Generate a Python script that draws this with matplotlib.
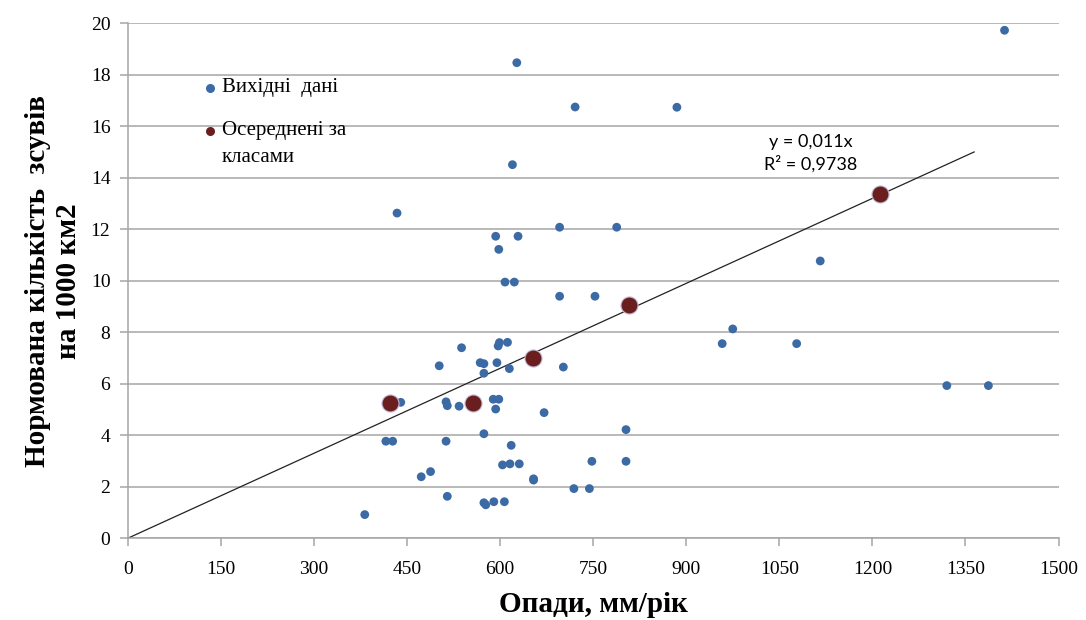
#!/usr/bin/env python3

import matplotlib
matplotlib.use('Agg')
import matplotlib.pyplot as plt

# опади (мм/рік) та нормована кількість зсувів на 1000 км2
rain = [1413, 627, 721, 885, 620, 434, 696, 788, 593, 629,
        598, 1116, 608, 623, 696, 753, 975, 958, 1078, 538,
        599, 612, 597, 502, 568, 574, 595, 615, 574, 702,
        1320, 1387, 440, 513, 515, 534, 589, 598, 593, 671,
        803, 416, 427, 513, 574, 618, 604, 616, 631, 654,
        654, 748, 803, 488, 473, 719, 744, 515, 574, 577,
        590, 607, 382]
slides = [19.73, 18.47, 16.75, 16.74, 14.51, 12.63, 12.08, 12.08, 11.73, 11.73,
          11.22, 10.77, 9.95, 9.95, 9.40, 9.40, 8.13, 7.56, 7.56, 7.40,
          7.60, 7.61, 7.47, 6.70, 6.82, 6.78, 6.82, 6.59, 6.41, 6.65,
          5.93, 5.93, 5.28, 5.30, 5.15, 5.13, 5.40, 5.40, 5.02, 4.88,
          4.22, 3.77, 3.77, 3.77, 4.06, 3.61, 2.85, 2.89, 2.89, 2.31,
          2.26, 2.99, 2.99, 2.59, 2.39, 1.93, 1.93, 1.63, 1.38, 1.30,
          1.42, 1.42, 0.92]

# середні по класах
class_rain = [422, 556, 653, 808, 1212]
class_slides = [5.27, 5.27, 6.99, 9.06, 13.37]

# лінійний тренд через початок координат
slope = 0.011
r2 = 0.9738
trend_x = [0, 1364]

blue = '#3b6aa5'
dred = '#6a1e1e'
grid_c = '#a6a6a6'
serif = ['Liberation Serif', 'DejaVu Serif']

fig = plt.figure(figsize=(10.86, 6.2), dpi=100)
ax = fig.add_axes([0.1176, 0.1318, 0.8571, 0.8306])

ax.plot(trend_x, [slope * v for v in trend_x], color='#222222', lw=0.9, zorder=2)
ax.scatter(rain, slides, s=40, color=blue, edgecolors='none', zorder=3)
ax.scatter(class_rain, class_slides, s=150, color=dred,
           edgecolors='#bdb8d4', linewidths=0.8, zorder=4)

ax.set_xlim(0, 1500)
ax.set_ylim(0, 20)
ax.set_xticks(range(0, 1501, 150))
ax.set_yticks(range(0, 21, 2))
ax.yaxis.grid(True, color=grid_c, lw=1.1)
ax.set_axisbelow(True)

for s in ('top', 'right'):
    ax.spines[s].set_visible(False)
for s in ('left', 'bottom'):
    ax.spines[s].set_color(grid_c)
    ax.spines[s].set_linewidth(1.1)

ax.tick_params(axis='both', direction='out', length=5.5, width=1.1,
               color=grid_c, labelsize=14)
ax.tick_params(axis='y', pad=7)
ax.tick_params(axis='x', pad=11)
for lab in ax.get_xticklabels() + ax.get_yticklabels():
    lab.set_family(serif)

ax.set_xlabel('Опади, мм/рік', family=serif, fontsize=21,
              fontweight='bold', labelpad=9)
ax.set_ylabel('Нормована кількість  зсувів\nна 1000 км2', family=serif,
              fontsize=21, fontweight='bold', labelpad=6, linespacing=1.2)

ax.text(1101, 14.95, 'y = 0,011x\nR² = 0,9738', family=['Lato', 'DejaVu Sans'],
        fontsize=13, ha='center', va='center', linespacing=1.35)

# легенда: маркери й підписи в координатах осей
leg_font = dict(family=serif, fontsize=15, va='center', ha='left',
                transform=ax.transAxes)
ax.plot([0.0884], [0.8744], 'o', ms=6.5, color=blue, mec='none',
        transform=ax.transAxes, clip_on=False)
ax.plot([0.0884], [0.7910], 'o', ms=6.5, color=dred, mec='none',
        transform=ax.transAxes, clip_on=False)
ax.text(0.1013, 0.8744, 'Вихідні  дані', **leg_font)
ax.text(0.1013, 0.7910, 'Осереднені за', **leg_font)
ax.text(0.1013, 0.7385, 'класами', **leg_font)

fig.savefig('out.png', dpi=100)
